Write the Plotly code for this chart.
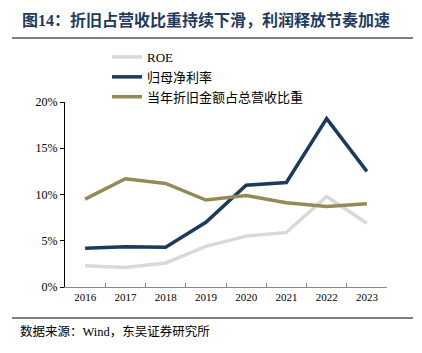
import plotly.graph_objects as go

years = ["2016", "2017", "2018", "2019", "2020", "2021", "2022", "2023"]
roe = [2.3, 2.1, 2.6, 4.4, 5.5, 5.9, 9.8, 6.9]
net_margin = [4.2, 4.35, 4.3, 7.0, 11.0, 11.3, 18.2, 12.5]
dep_ratio = [9.5, 11.7, 11.2, 9.4, 9.9, 9.1, 8.7, 9.0]
names = ["ROE", "归母净利率", "当年折旧金额占总营收比重"]
colors = ["#d9d9d9", "#1b3a5e", "#948a54"]

W, H = 422, 353
L, R, T, B = 65, 35, 102, 66
pw, ph = W - L - R, H - T - B

def px(x):
    return (x - L) / pw

def py(y):
    return (H - B - y) / ph

FONT = "Liberation Serif, Noto Sans CJK SC"

fig = go.Figure()
for nm, vals, c in zip(names, [roe, net_margin, dep_ratio], colors):
    fig.add_trace(go.Scatter(x=years, y=vals, name=nm, mode="lines",
                             line=dict(color=c, width=3.5)))

fig.update_layout(
    width=W, height=H,
    margin=dict(l=L, r=R, t=T, b=B),
    paper_bgcolor="white", plot_bgcolor="white",
    font=dict(family=FONT, size=11, color="#000"),
    showlegend=True,
    legend=dict(x=px(107), y=py(42), xanchor="left", yanchor="top",
                font=dict(size=13, family=FONT), bgcolor="rgba(0,0,0,0)",
                tracegroupgap=0, itemwidth=30),
    xaxis=dict(type="category", range=[-0.5, 7.5], showgrid=False,
               showline=True, linecolor="#888", linewidth=1,
               ticks="inside", ticklen=4, tickcolor="#888",
               tickson="boundaries", tickfont=dict(size=11, family=FONT)),
    yaxis=dict(range=[0, 20], dtick=5, ticksuffix="%", showgrid=False,
               showline=True, linecolor="#000", linewidth=1,
               ticks="outside", ticklen=4, tickcolor="#000", zeroline=False,
               tickfont=dict(size=12, family=FONT)),
)

fig.add_annotation(x=px(20), y=py(20), xref="paper", yref="paper",
                   xanchor="left", yanchor="middle", showarrow=False,
                   text="<b>图14：折旧占营收比重持续下滑，利润释放节奏加速</b>",
                   font=dict(size=16, color="#1f3a5f", family=FONT))
fig.add_annotation(x=px(18), y=py(331), xref="paper", yref="paper",
                   xanchor="left", yanchor="middle", showarrow=False,
                   text="数据来源：Wind，东吴证券研究所",
                   font=dict(size=12.5, color="#000", family=FONT))
fig.add_shape(type="line", xref="paper", yref="paper",
              x0=px(12), x1=px(413), y0=py(38), y1=py(38),
              line=dict(color="#000", width=1))
fig.add_shape(type="line", xref="paper", yref="paper",
              x0=px(12), x1=px(413), y0=py(318), y1=py(318),
              line=dict(color="#000", width=1))

fig.write_html("out.html")
